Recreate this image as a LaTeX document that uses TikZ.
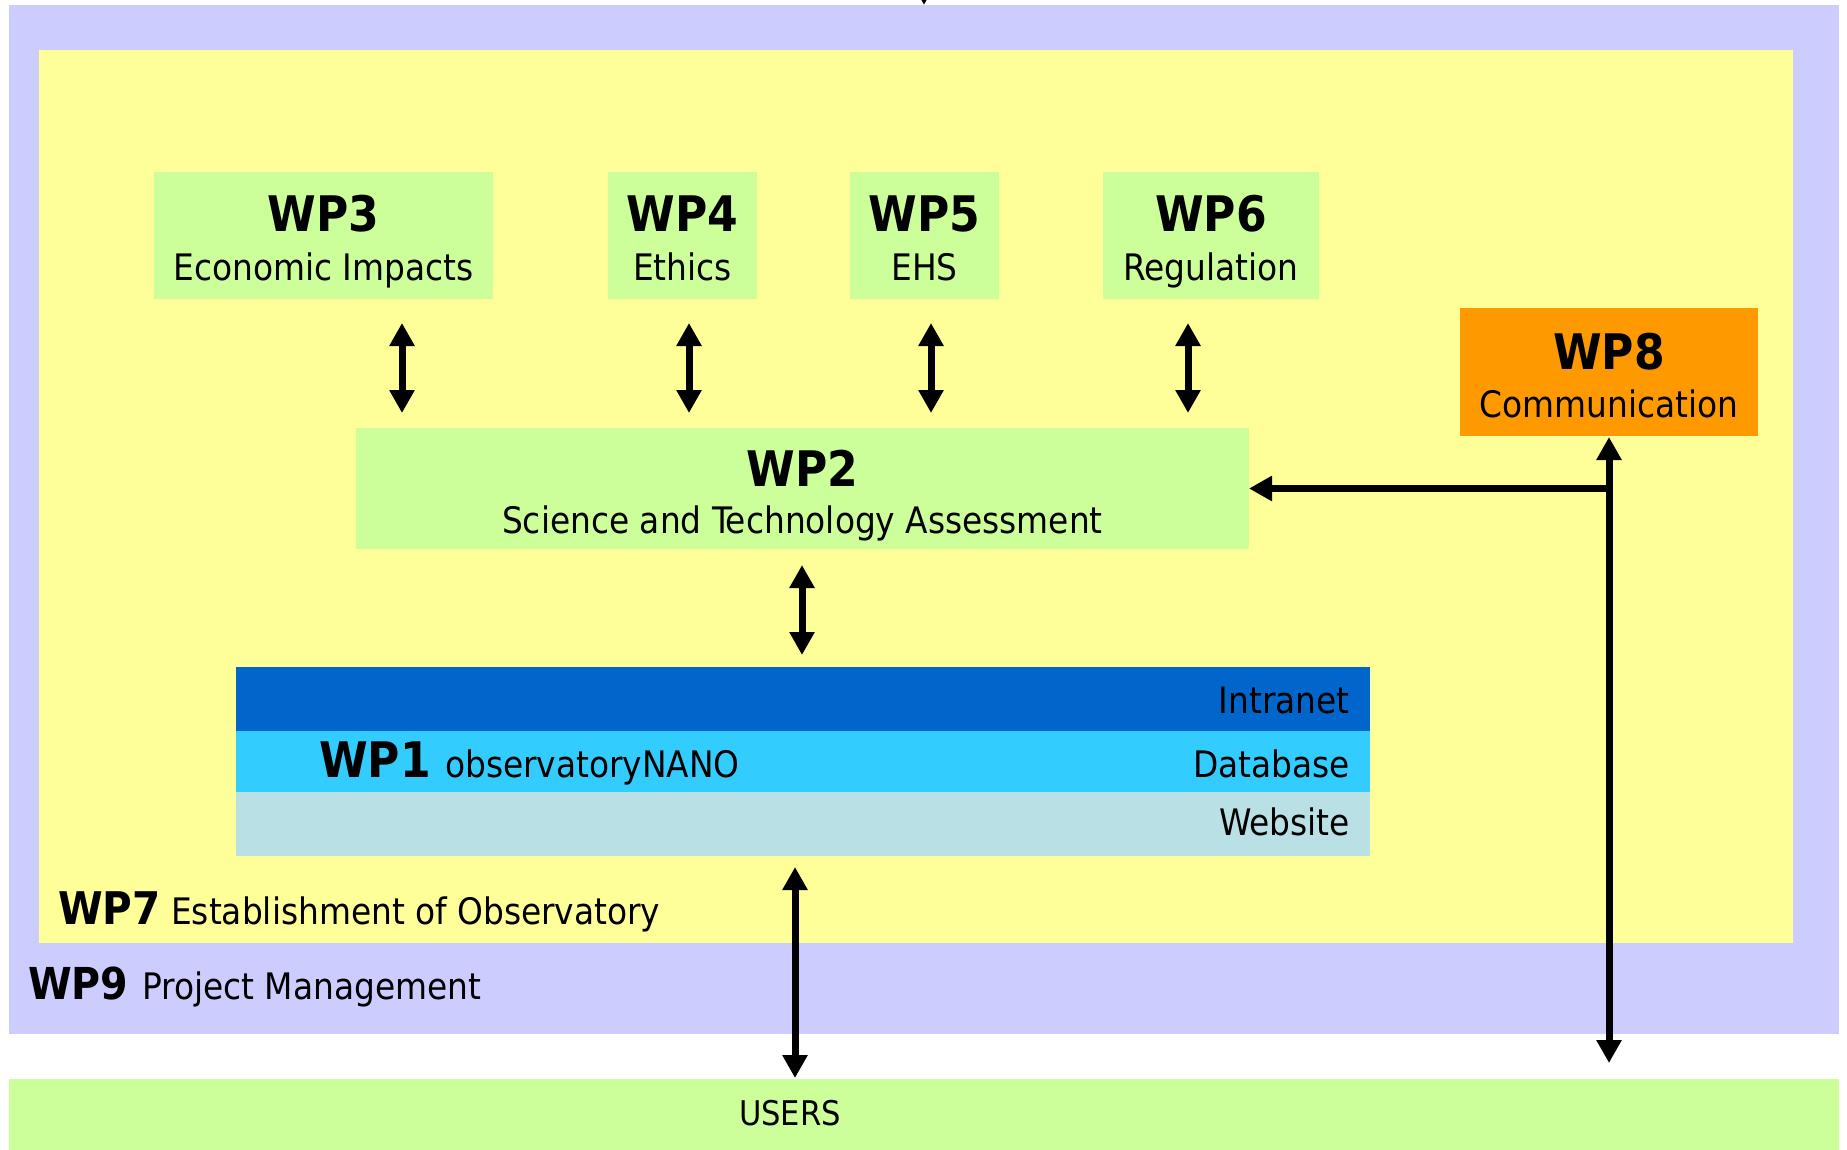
\documentclass[tikz,border=0pt]{standalone}
\usepackage{fontspec}
\IfFontExistsTF{DejaVuSansCondensed.ttf}
 {\setmainfont{DejaVuSansCondensed.ttf}[BoldFont=DejaVuSansCondensed-Bold.ttf]}
 {\setmainfont{DejaVu Sans}[FakeStretch=0.9]}
\usetikzlibrary{arrows.meta}
\definecolor{lav}{HTML}{CCCCFF}
\definecolor{yel}{HTML}{FFFF99}
\definecolor{grn}{HTML}{CCFF99}
\definecolor{org}{HTML}{FF9900}
\definecolor{intra}{HTML}{0066CC}
\definecolor{dbase}{HTML}{33CCFF}
\definecolor{wsite}{HTML}{B9E0E4}
\newcommand\wptitlefont{\fontsize{49}{58}\bfseries\selectfont}
\newcommand\wpsubfont{\fontsize{36.5}{43}\selectfont}
\newcommand\wplabfont{\fontsize{45}{54}\bfseries\selectfont}
\newcommand\wpusersfont{\fontsize{34}{40}\selectfont}
\begin{document}
\begin{tikzpicture}[x=1pt,y=-1pt,
  area/.style={rectangle, inner sep=0pt, outer sep=0pt, draw=none},
  wpbox/.style={area, fill=grn, minimum height=127pt},
  ttl/.style={anchor=base, inner sep=0pt, font=\wptitlefont},
  sub/.style={anchor=base, inner sep=0pt, font=\wpsubfont},
  lab/.style={anchor=base west, inner sep=0pt, font=\wplabfont},
  labtxt/.style={anchor=base west, inner sep=0pt, font=\wpsubfont},
  bandtxt/.style={anchor=base east, inner sep=0pt, font=\wpsubfont},
  tipA/.tip={Triangle[length=23pt,width=24pt]},
  link/.style={line width=7pt, -tipA},
  dbl/.style={line width=7pt, tipA-tipA},
]
\useasboundingbox (0,0) rectangle (1847,1150);
\begin{scope}
\clip (0,0) rectangle (1847,1150);
\fill[white] (0,0) rectangle (1847,1150);

% outer areas
\node[area, fill=lav, minimum width=1830pt, minimum height=1029pt] (wp9) at (924,519.5) {};
\node[area, fill=yel, minimum width=1754pt, minimum height=893pt] (wp7) at (916,496.5) {};
\node[area, fill=grn, minimum width=1830pt, minimum height=71pt] (users) at (924,1114.5) {};

% top row boxes
\node[wpbox, minimum width=339pt] (wp3) at (323.5,235.5) {};
\node[wpbox, minimum width=149pt] (wp4) at (682.5,235.5) {};
\node[wpbox, minimum width=149pt] (wp5) at (924.5,235.5) {};
\node[wpbox, minimum width=216pt] (wp6) at (1211,235.5) {};
\node[area, fill=org, minimum width=298pt, minimum height=128pt] (wp8) at (1609,372) {};
\node[area, fill=grn, minimum width=893pt, minimum height=121pt] (wp2) at (802.5,488.5) {};

% WP1 bands
\node[area, fill=intra, minimum width=1134pt, minimum height=64pt] (intranet) at (803,699) {};
\node[area, fill=dbase, minimum width=1134pt, minimum height=61pt] (database) at (803,761.5) {};
\node[area, fill=wsite, minimum width=1134pt, minimum height=64pt] (website) at (803,824) {};

% texts in boxes
\path (wp3.north) ++(0,60) node[ttl] (wp3a) {WP3};
\path (wp3.north) ++(0,108) node[sub] (wp3b) {Economic Impacts};
\path (wp4.north) ++(0,60) node[ttl] (wp4a) {WP4};
\path (wp4.north) ++(0,108) node[sub] (wp4b) {Ethics};
\path (wp5.north) ++(0,60) node[ttl] (wp5a) {WP5};
\path (wp5.north) ++(0,108) node[sub] (wp5b) {EHS};
\path (wp6.north) ++(0,60) node[ttl] (wp6a) {WP6};
\path (wp6.north) ++(0,108) node[sub] (wp6b) {Regulation};
\path (wp8.north) ++(0,61) node[ttl] (wp8a) {WP8};
\path (wp8.north) ++(0,109) node[sub] (wp8b) {Communication};
\path (wp2.north) ++(0,58) node[ttl] (wp2a) {WP2};
\path (wp2.north) ++(0,105) node[sub] (wp2b) {Science and Technology Assessment};

\node[bandtxt] (intranett) at (1350,713) {Intranet};
\node[bandtxt] (databaset) at (1350,777) {Database};
\node[bandtxt] (websitet) at (1350,835) {Website};
\node[lab, font=\wptitlefont] (wp1a) at (319,777) {WP1};
\node[labtxt] (wp1b) at (445,777) {observatoryNANO};

\node[lab] (wp7a) at (58,924) {WP7};
\node[labtxt] (wp7b) at (171,924) {Establishment of Observatory};
\node[lab, font=\fontsize{44}{53}\bfseries\selectfont] (wp9a) at (28,999) {WP9};
\node[labtxt] (wp9b) at (142,999) {Project Management};
\node[anchor=base, inner sep=0pt, font=\wpusersfont] (userst) at (790,1125) {USERS};

% connectors
\coordinate (x3) at (402,0);
\coordinate (x4) at (689,0);
\coordinate (x5) at (931,0);
\coordinate (x6) at (1188,0);
\coordinate (x21) at (802,0);
\coordinate (x1u) at (795,0);
\draw[dbl, shorten <=24pt, shorten >=15pt] (wp3.south -| x3) -- (wp2.north -| x3);
\draw[dbl, shorten <=24pt, shorten >=15pt] (wp4.south -| x4) -- (wp2.north -| x4);
\draw[dbl, shorten <=24pt, shorten >=15pt] (wp5.south -| x5) -- (wp2.north -| x5);
\draw[dbl, shorten <=24pt, shorten >=15pt] (wp6.south -| x6) -- (wp2.north -| x6);
\draw[dbl, shorten <=16pt, shorten >=12pt] (wp2.south -| x21) -- (intranet.north -| x21);
\draw[dbl, shorten <=11pt, shorten >=1pt] (website.south -| x1u) -- (users.north -| x1u);

\coordinate (wp8end) at (1609,1063);
\draw[dbl, shorten <=1pt] (wp8.south) -- (wp8end);
\coordinate (junc) at (wp8.south |- wp2.east);
\draw[link] ([xshift=3.5pt]junc) -- (wp2.east);

\coordinate (topsrc) at (924,-60);
\draw[link] (topsrc) -- (topsrc |- wp9.north);
\end{scope}
\end{tikzpicture}
\end{document}
